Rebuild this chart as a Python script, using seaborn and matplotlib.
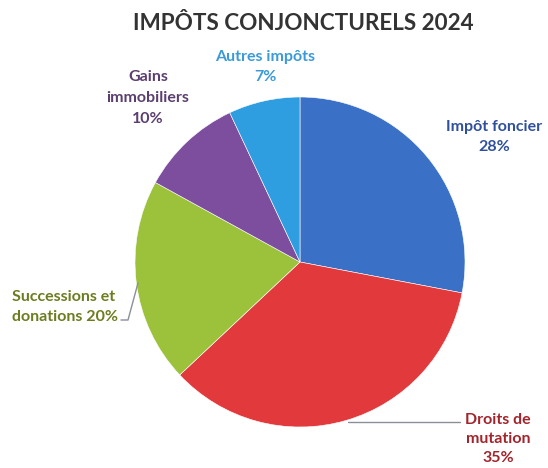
import matplotlib
matplotlib.use("Agg")
import matplotlib.pyplot as plt
import seaborn as sns

# data
categories = ["Impôt foncier", "Droits de mutation", "Successions et donations",
              "Gains immobiliers", "Autres impôts"]
shares = [28, 35, 20, 10, 7]
colors = ["#3a70c6", "#e23a3c", "#9cc23c", "#7d4e9e", "#2e9ee0"]
label_texts = ["Impôt foncier\n28%", "Droits de\nmutation\n35%",
               "Successions et\ndonations 20%", "Gains\nimmobiliers\n10%",
               "Autres impôts\n7%"]
label_colors = ["#2f509c", "#a3242c", "#6b7d1f", "#5b3f70", "#3a9bd8"]

sns.set_theme(style="white")
plt.rcParams["font.family"] = ["Lato", "DejaVu Sans"]

W, H = 548, 468
fig = plt.figure(figsize=(W / 100, H / 100), dpi=100)
fig.patch.set_facecolor("white")

# pie centre ~ (300, 262) px, radius ~165 px
cx, cy, r = 300, 262, 165
ax = fig.add_axes([(cx - r) / W, (H - cy - r) / H, 2 * r / W, 2 * r / H])
ax.pie(shares, colors=colors, startangle=90, counterclock=False,
       wedgeprops=dict(linewidth=0.4, edgecolor="white"))
ax.set_xlim(-1, 1)
ax.set_ylim(-1, 1)
ax.set_aspect("equal")
ax.axis("off")

fig.text(303 / W, 1 - 23 / H, "IMPÔTS CONJONCTURELS 2024", ha="center", va="center",
         fontsize=16.2, fontweight="bold", color="#333333")

def px(x, y):
    return x / W, 1 - y / H

# label positions (pixel coords of block centre / anchor) and line spacing
pos = [(494, 137, "center", 1.62), (498, 439, "center", 1.5), (12, 307, "left", 1.62),
       (148, 98, "center", 1.62), (265, 67, "center", 1.62)]
for txt, col, (x, y, ha, ls) in zip(label_texts, label_colors, pos):
    fig.text(*px(x, y), txt, ha=ha, va="center", fontsize=11.5, fontweight="bold",
             color=col, linespacing=ls, multialignment="center" if ha == "center" else "left")

# leader lines
fig.add_artist(plt.Line2D([121 / W, 128 / W, 138 / W], [1 - 320 / H, 1 - 320 / H, 1 - 283 / H],
                          color="#8a8f99", lw=1))
fig.add_artist(plt.Line2D([348 / W, 460 / W], [1 - 422 / H, 1 - 422 / H],
                          color="#8a8f99", lw=1))

fig.savefig("out.png", dpi=100, facecolor="white")
